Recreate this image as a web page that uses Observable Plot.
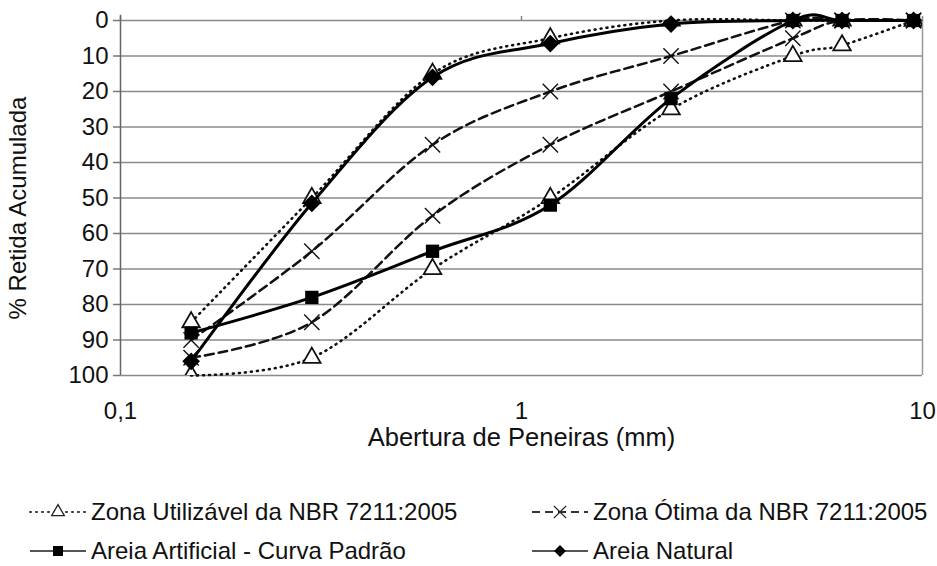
<!DOCTYPE html>
<html>
<head>
<meta charset="utf-8">
<script src="https://cdn.jsdelivr.net/npm/d3@7"></script>
<script src="https://cdn.jsdelivr.net/npm/@observablehq/plot@0.6"></script>
<style>
  html, body { margin: 0; padding: 0; background: #fff; }
  #wrap { position: relative; width: 937px; height: 566px; font-family: "Liberation Sans", Arial, sans-serif; color: #111; }
  .leg { position: absolute; display: flex; align-items: center; font-size: 24px; white-space: nowrap; }
  .leg svg { margin-right: 3px; }
</style>
</head>
<body>
<div id="wrap"><div id="chart"></div></div>
<script>
// Sieve openings (mm)
const sieves = [0.15, 0.3, 0.6, 1.18, 2.36, 4.75, 6.3, 9.5];
// % retained (cumulative)
const utilLower = [85, 50, 15, 5, 0, 0, 0, 0];
const utilUpper = [100, 95, 70, 50, 25, 10, 7, 0];
const otimaLower = [90, 65, 35, 20, 10, 0, 0, 0];
const otimaUpper = [95, 85, 55, 35, 20, 5, 0, 0];
const areiaArtificial = [88, 78, 65, 52, 22, 0, 0, 0];
const areiaNatural = [96, 51.5, 16, 6.5, 1, 0, 0, 0];

const yTicks = [0, 10, 20, 30, 40, 50, 60, 70, 80, 90, 100];
const xTicks = [0.1, 1, 10];
const xTitle = "Abertura de Peneiras (mm)";
const yTitle = "% Retida Acumulada";
const legendNames = [
  "Zona Utilizável da NBR 7211:2005",
  "Zona Ótima da NBR 7211:2005",
  "Areia Artificial - Curva Padrão",
  "Areia Natural"
];

const toRows = (vals, series) => sieves.map((x, i) => ({x, y: vals[i], series}));
const rUL = toRows(utilLower, "uL"), rUU = toRows(utilUpper, "uU");
const rOL = toRows(otimaLower, "oL"), rOU = toRows(otimaUpper, "oU");
const rA = toRows(areiaArtificial, "a"), rN = toRows(areiaNatural, "n");

const dotted = {stroke: "#111", strokeWidth: 2.6, strokeDasharray: "1,5", strokeLinecap: "round"};
const dashed = {stroke: "#111", strokeWidth: 2.5, strokeDasharray: "9,5"};
const solid = {stroke: "#000", strokeWidth: 3};

const chart = Plot.plot({
  width: 937,
  height: 460,
  marginLeft: 120,
  marginRight: 15,
  marginTop: 20,
  marginBottom: 85,
  style: {fontSize: "24px", fontFamily: "'Liberation Sans', Arial, sans-serif", color: "#111", background: "white"},
  x: {type: "log", domain: [0.1, 10]},
  y: {domain: [0, 100], reverse: true},
  marks: [
    Plot.gridY(yTicks, {stroke: "#8a8a8a", strokeOpacity: 1, strokeWidth: 1.5}),
    Plot.ruleX([10], {stroke: "#999", strokeWidth: 1.5}),
    Plot.axisY({ticks: yTicks, tickSize: 7, tickPadding: 5, stroke: "#777", strokeWidth: 1.5, label: null, fontSize: 24}),
    Plot.axisX({anchor: "top", ticks: xTicks, tickSize: 5, tickFormat: () => "", stroke: "#888", strokeWidth: 1.5, label: null}),
    Plot.axisX({anchor: "bottom", ticks: xTicks, tickSize: 0, tickPadding: 26, tickFormat: d => String(d).replace(".", ","), label: null, fontSize: 24}),
    Plot.ruleX([0.1], {y1: -1.5, y2: 100, stroke: "#666", strokeWidth: 1.5}),
    Plot.text([yTitle], {text: d => d, frameAnchor: "left", dx: -102, dy: 10, rotate: -90, textAnchor: "middle", lineAnchor: "middle", fontSize: 24}),
    Plot.text([xTitle], {text: d => d, frameAnchor: "bottom", dy: 62, textAnchor: "middle", lineAnchor: "middle", fontSize: 25.5}),
    // lines
    Plot.line(rUL, {x: "x", y: "y", curve: "cardinal", ...dotted}),
    Plot.line(rUU, {x: "x", y: "y", curve: "cardinal", ...dotted}),
    Plot.line(rOL, {x: "x", y: "y", curve: "cardinal", ...dashed}),
    Plot.line(rOU, {x: "x", y: "y", curve: "cardinal", ...dashed}),
    Plot.dot(rUL.concat(rUU), {x: "x", y: "y", symbol: "triangle", r: 6.5, fill: "white", stroke: "#111", strokeWidth: 1.8, clip: true}),
    Plot.dot(rOL.concat(rOU), {x: "x", y: "y", symbol: "times", r: 7, stroke: "#111", strokeWidth: 1.4}),
    Plot.line(rA, {x: "x", y: "y", curve: "cardinal", ...solid}),
    Plot.dot(rA, {x: "x", y: "y", symbol: "square", r: 7.5, fill: "#000", stroke: "none"}),
    Plot.line(rN, {x: "x", y: "y", curve: "cardinal", ...solid}),
    Plot.dot(rN, {x: "x", y: "y", symbol: "diamond2", r: 8, fill: "#000", stroke: "none"})
  ]
});
document.getElementById("chart").appendChild(chart);

// Legend
const legendDefs = [
  {name: legendNames[0], line: {stroke: "#333", dash: "1,5", cap: "round", w: 2}, sym: d3.symbolTriangle, fill: "white", stroke: "#222", size: 70, left: 28, top: 512},
  {name: legendNames[1], line: {stroke: "#333", dash: "8,5", cap: "butt", w: 2}, sym: d3.symbolTimes, fill: "none", stroke: "#222", size: 100, left: 530, top: 512},
  {name: legendNames[2], line: {stroke: "#555", dash: null, cap: "butt", w: 2}, sym: d3.symbolSquare, fill: "#000", stroke: "none", size: 100, left: 28, top: 551},
  {name: legendNames[3], line: {stroke: "#555", dash: null, cap: "butt", w: 2}, sym: d3.symbolDiamond2, fill: "#000", stroke: "none", size: 90, left: 530, top: 551}
];
const wrap = document.getElementById("wrap");
for (const d of legendDefs) {
  const div = document.createElement("div");
  div.className = "leg";
  div.style.left = d.left + "px";
  div.style.top = (d.top - 14) + "px";
  const svg = d3.create("svg").attr("width", 60).attr("height", 28);
  svg.append("line").attr("x1", 2).attr("x2", 58).attr("y1", 14).attr("y2", 14)
    .attr("stroke", d.line.stroke).attr("stroke-width", d.line.w)
    .attr("stroke-dasharray", d.line.dash).attr("stroke-linecap", d.line.cap);
  svg.append("path").attr("transform", "translate(30,14)")
    .attr("d", d3.symbol(d.sym, d.size)())
    .attr("fill", d.fill).attr("stroke", d.stroke).attr("stroke-width", 1.3);
  div.appendChild(svg.node());
  const span = document.createElement("span");
  span.textContent = d.name;
  div.appendChild(span);
  wrap.appendChild(div);
}
</script>
</body>
</html>
